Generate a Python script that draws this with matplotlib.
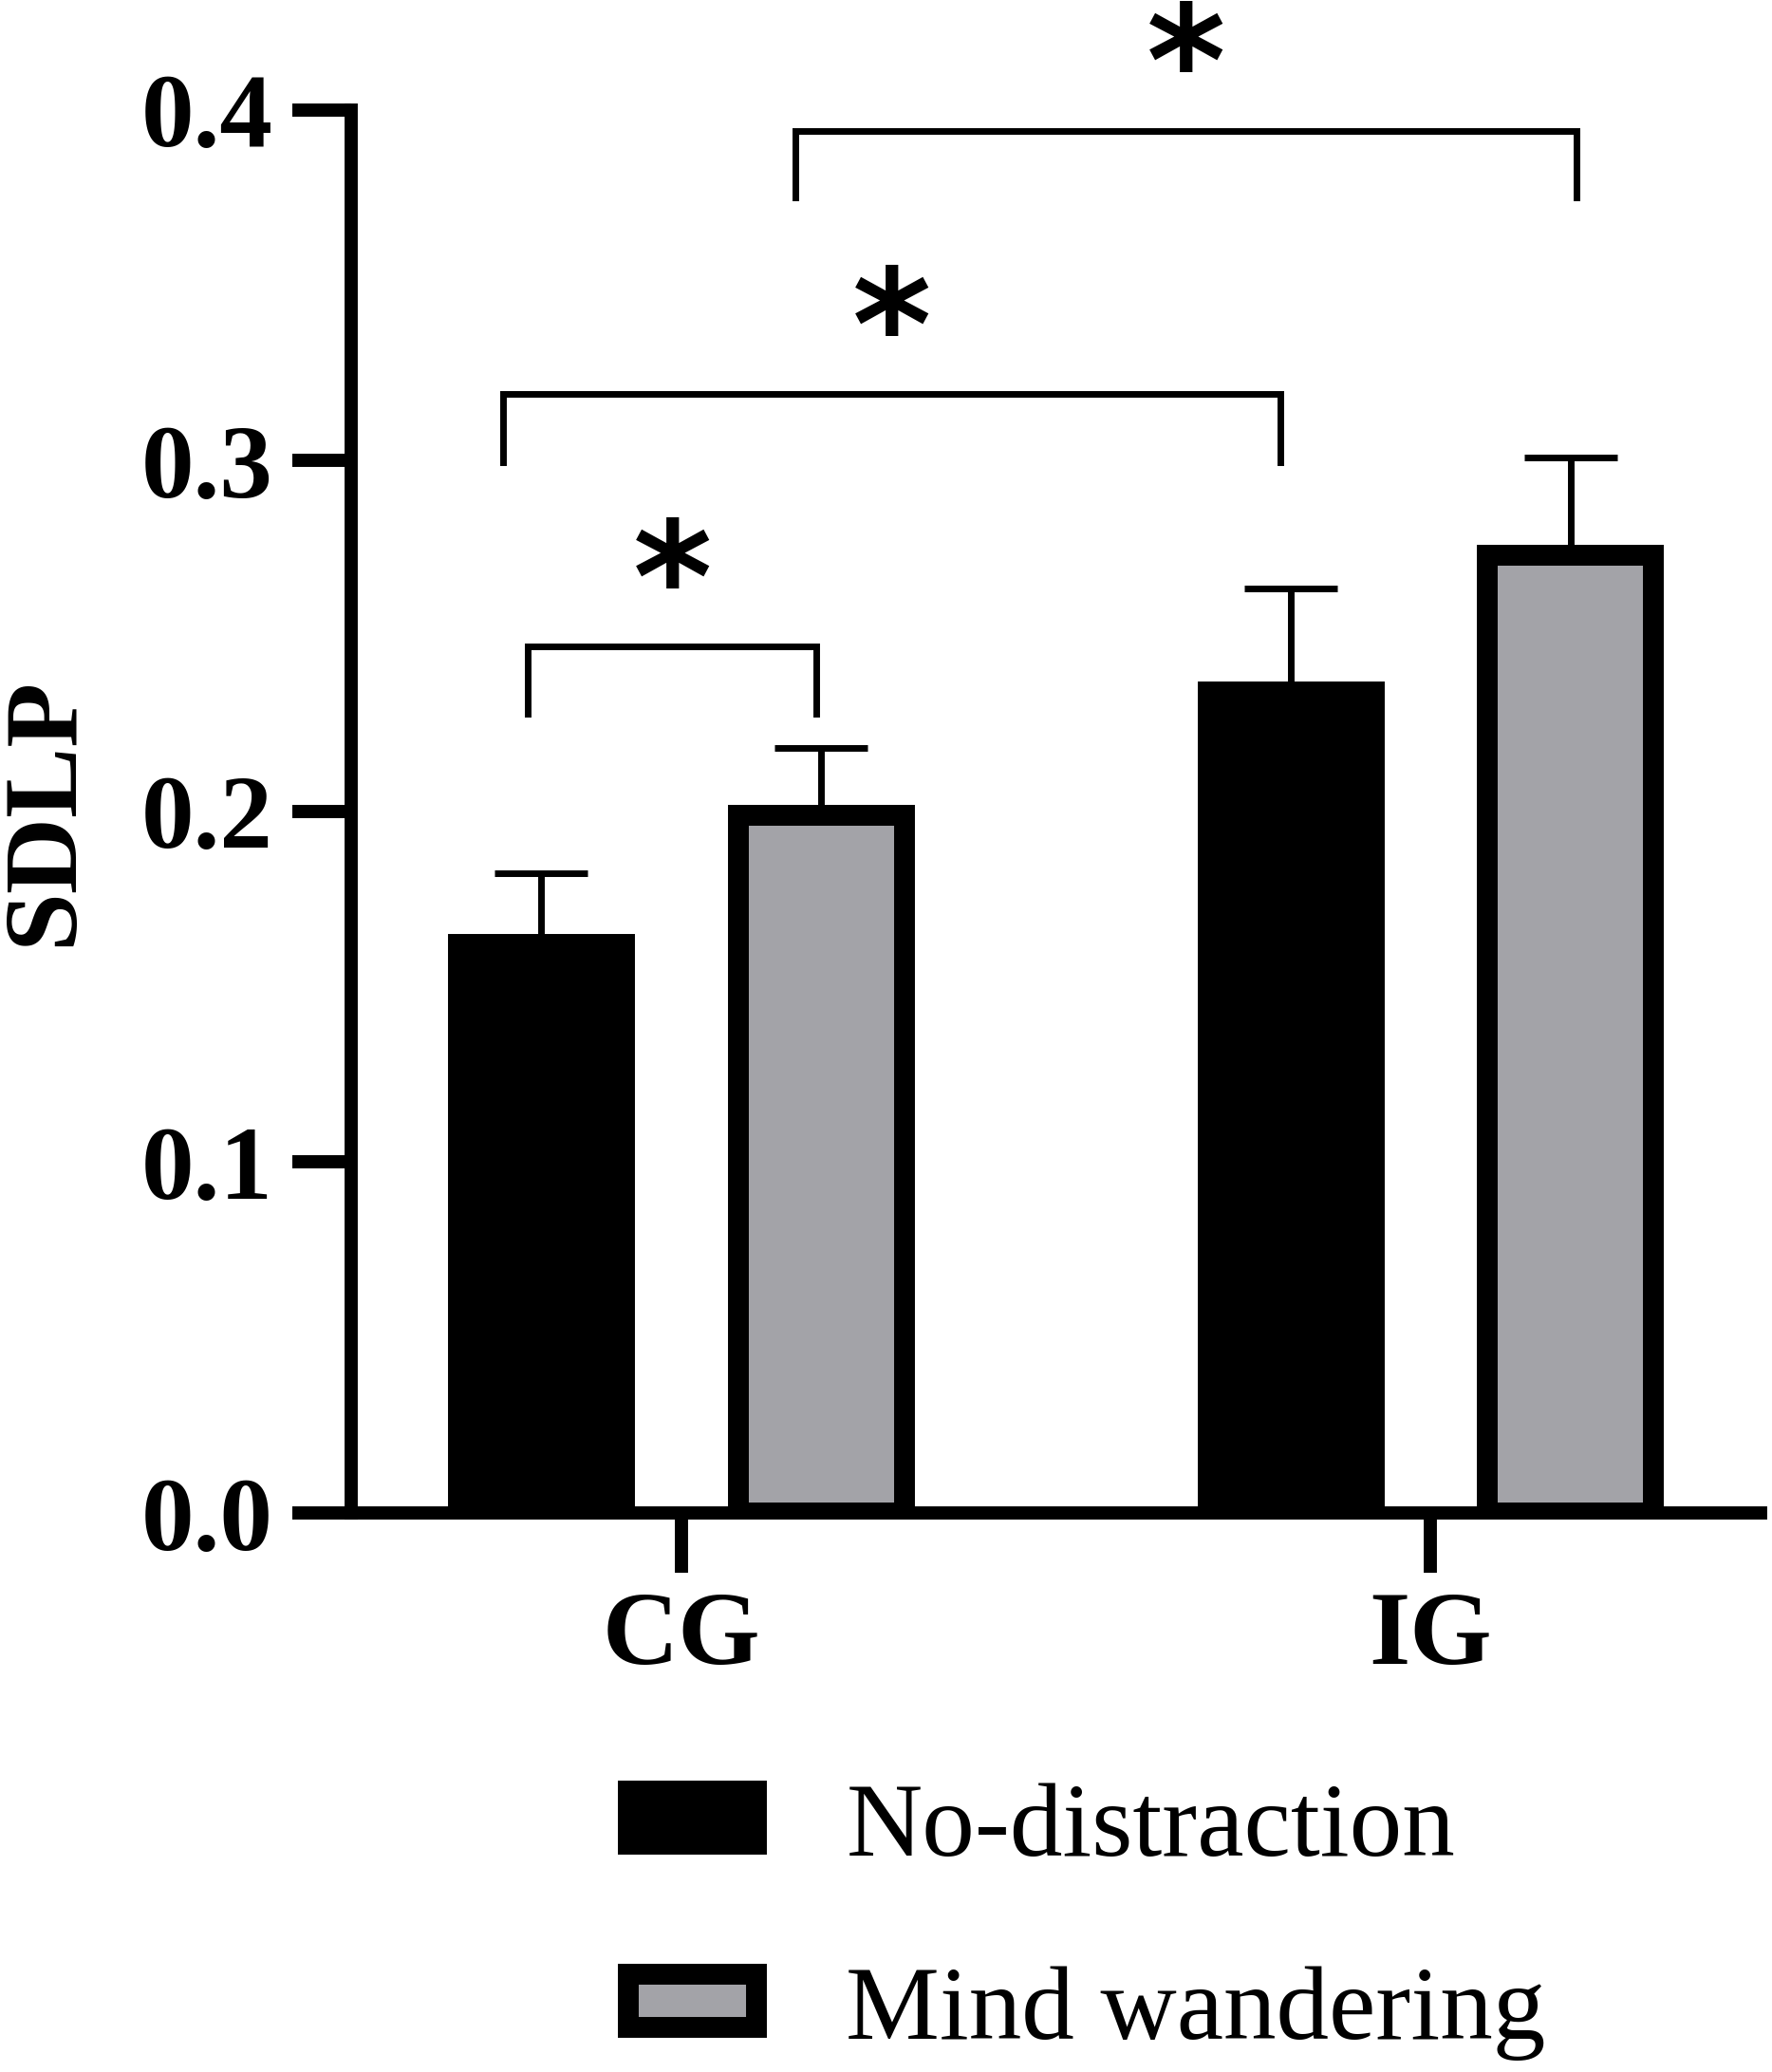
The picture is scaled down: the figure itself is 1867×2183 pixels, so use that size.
import numpy as np
import matplotlib
matplotlib.use('Agg')
import matplotlib.pyplot as plt

# data
groups = ['CG', 'IG']
conditions = ['No-distraction', 'Mind wandering']
nd_mean = [0.162, 0.234]
nd_err = [0.0205, 0.0297]
mw_mean = [0.199, 0.273]
mw_err = [0.019, 0.028]

# significance brackets: left x, right x, bar height, leg bottom
br_left = [-0.204, -0.238, 0.153]
br_right = [0.180, 0.799, 1.194]
br_top = [0.247, 0.319, 0.394]
br_leg = [0.228, 0.2995, 0.375]
star_y = [0.275, 0.347, 0.422]

yticks = [0.0, 0.1, 0.2, 0.3, 0.4]

plt.rcParams['font.family'] = ['Liberation Serif', 'DejaVu Serif']

fig = plt.figure(figsize=(18.67, 21.83), dpi=100)
ax = fig.add_axes([0.1982, 0.2698, 0.7954, 0.6771])

x = np.arange(len(groups))
off = 0.1867
w = 0.2215
edge_lw = 15.8

ax.bar(x - off, nd_mean, w, color='black', edgecolor='black', linewidth=edge_lw,
       label=conditions[0], zorder=2)
ax.bar(x + off, mw_mean, w, color='#a3a3a8', edgecolor='black', linewidth=edge_lw,
       label=conditions[1], zorder=2)

zeros = np.zeros(len(groups))
ax.errorbar(x - off, nd_mean, yerr=[zeros, nd_err], fmt='none', ecolor='black',
            elinewidth=5, capsize=35, capthick=5, zorder=1)
ax.errorbar(x + off, mw_mean, yerr=[zeros, mw_err], fmt='none', ecolor='black',
            elinewidth=5, capsize=35, capthick=5, zorder=1)

for i in range(len(br_top)):
    ax.plot([br_left[i], br_left[i], br_right[i], br_right[i]],
            [br_leg[i], br_top[i], br_top[i], br_leg[i]],
            color='black', lw=5, solid_joinstyle='miter', clip_on=False)
    # shift so the star glyph centre lands on star_y
    ax.annotate('*', xy=((br_left[i] + br_right[i]) / 2, star_y[i]),
                xytext=(0, -62.5), textcoords='offset points',
                ha='center', va='baseline', fontsize=115, fontweight='bold',
                family='DejaVu Sans', annotation_clip=False)

ax.set_xlim(-0.44, 1.44)
ax.set_ylim(0, 0.4)
ax.set_yticks(yticks)
ax.set_yticklabels(['%.1f' % t for t in yticks])
ax.set_xticks(x)
ax.set_xticklabels(groups)

for s in ['top', 'right']:
    ax.spines[s].set_visible(False)
for s in ['left', 'bottom']:
    ax.spines[s].set_linewidth(10)

ax.tick_params(axis='both', length=45, width=10, pad=14, labelsize=80)
for lab in ax.get_xticklabels() + ax.get_yticklabels():
    lab.set_fontweight('bold')

ax.set_ylabel('SDLP', fontsize=80, fontweight='bold', labelpad=37)

fig.legend(loc='upper left', bbox_to_anchor=(0.3546, 0.1395), frameon=False,
           fontsize=80, handlelength=1.215, handleheight=0.396,
           handletextpad=0.85, labelspacing=0.84, borderpad=0, borderaxespad=0)

fig.savefig('out.png', dpi=100)
